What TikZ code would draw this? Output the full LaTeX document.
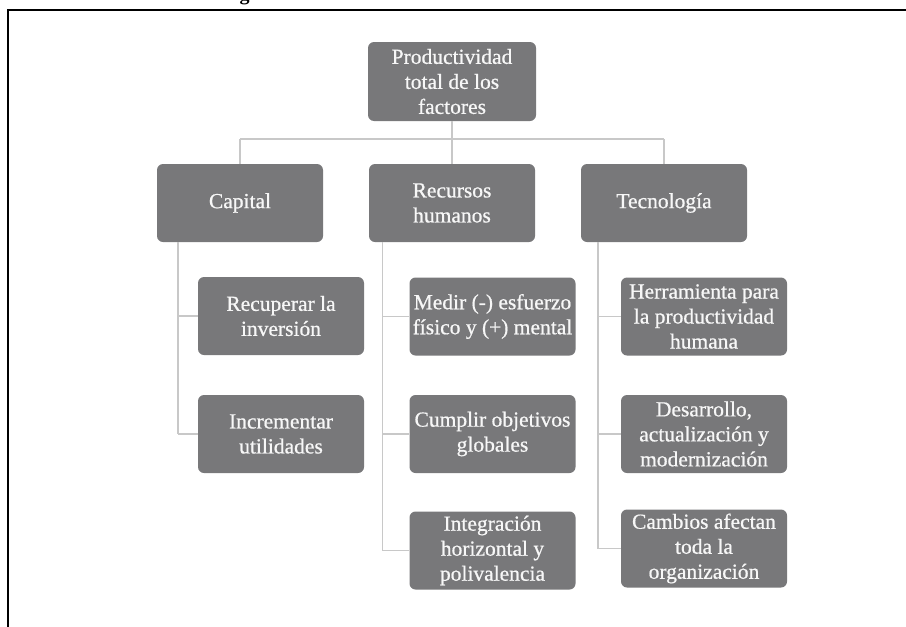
\documentclass[tikz,border=0pt]{standalone}
\usepackage{fontspec}
\setmainfont{Liberation Serif}
% box labels: the serif with a slightly heavier stroke
\newfontfamily\boxfont{Liberation Serif}[BoldFont={Liberation Serif}, BoldFeatures={FakeBold=0.7}]
\usetikzlibrary{calc}
\definecolor{boxgray}{RGB}{120,120,122}
\definecolor{linkgray}{RGB}{200,200,200}
\definecolor{boxtext}{RGB}{247,247,247}
\begin{document}
\begin{tikzpicture}[x=1pt,y=-1pt,
  box/.style={draw=none, fill=boxgray, rounded corners=6pt, text=boxtext,
    minimum width=166pt, minimum height=78pt, inner sep=0pt, align=center,
    font=\boxfont\bfseries\fontsize{21.5}{25}\selectfont},
  link/.style={draw=linkgray, line width=1.4pt},
  frameline/.style={draw=black, line width=1.8pt}]
\useasboundingbox (0,0) rectangle (906,627);

% frame and the cut title glyph above it
\node[anchor=base, inner sep=0pt, font=\bfseries\fontsize{20}{20}\selectfont] (ttl) at (244.5,0.5) {g};
\draw[frameline] (8,640) -- (8,10) -- (920,10);

% top level
\node[box, minimum width=168pt, minimum height=79pt] (ptf) at (452,81.5) {Productividad\\total de los\\factores};

% second level
\node[box] (cap) at (240,203) {Capital};
\node[box] (rh)  at (452,203) {Recursos\\humanos};
\node[box] (tec) at (664,203) {Tecnología};

% third level: capital
\node[box] (c1) at (281,316) {Recuperar la\\inversión};
\node[box] (c2) at (281,434) {Incrementar\\utilidades};

% third level: human resources
\node[box] (r1) at (492.5,316.5) {Medir (-) esfuerzo\\físico y (+) mental};
\node[box] (r2) at (492.5,434) {Cumplir objetivos\\globales};
\node[box] (r3) at (492.5,550.5) {Integración\\horizontal y\\polivalencia};

% third level: technology
\node[box] (t1) at (704,316.5) {Herramienta para\\la productividad\\humana};
\node[box] (t2) at (704,434) {Desarrollo,\\actualización y\\modernización};
\node[box] (t3) at (704,548.5) {Cambios afectan\\toda la\\organización};

% top tree
\coordinate (hub) at (452,139);
\draw[link] (ptf.south) -- (ptf.south |- hub);
\draw[link] (cap.north |- hub) -- (tec.north |- hub);
\draw[link] (cap.north |- hub) -- (cap.north);
\draw[link] (rh.north |- hub) -- (rh.north);
\draw[link] (tec.north |- hub) -- (tec.north);

% trunks below each second-level box
\coordinate (capT) at (178,242);
\coordinate (rhT)  at (382.5,242);
\coordinate (tecT) at (598,242);

\draw[link] (capT) -- (capT |- c2.west);
\draw[link] (capT |- c1.west) -- (c1.west);
\draw[link] (capT |- c2.west) -- (c2.west);

\draw[link] (rhT) -- (rhT |- r3.west);
\draw[link] (rhT |- r1.west) -- (r1.west);
\draw[link] (rhT |- r2.west) -- (r2.west);
\draw[link] (rhT |- r3.west) -- (r3.west);

\draw[link] (tecT) -- (tecT |- t3.west);
\draw[link] (tecT |- t1.west) -- (t1.west);
\draw[link] (tecT |- t2.west) -- (t2.west);
\draw[link] (tecT |- t3.west) -- (t3.west);
\end{tikzpicture}
\end{document}
